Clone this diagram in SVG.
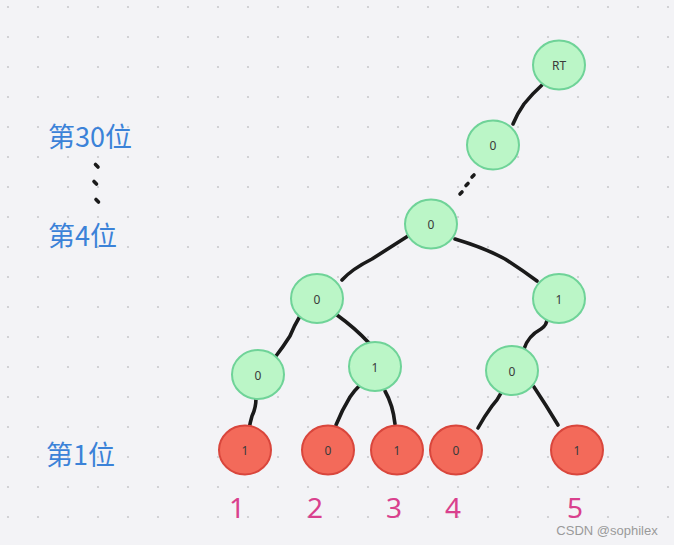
<svg xmlns="http://www.w3.org/2000/svg" width="674" height="545" viewBox="0 0 674 545">
<defs>
<pattern id="grid" x="0" y="0" width="30" height="30" patternUnits="userSpaceOnUse">
<circle cx="8" cy="7" r="1.1" fill="#c9c9cd"/>
</pattern>
<style>
.g{fill:#bbf6c7;stroke:#6fd398;stroke-width:2}
.r{fill:#f36a5a;stroke:#d9463c;stroke-width:2}
.t{font-family:"Noto Sans","Liberation Sans",sans-serif;font-size:12px;fill:#3a3a3a;text-anchor:middle}
.e{fill:none;stroke:#1a1a1a;stroke-width:3.6;stroke-linecap:round;stroke-linejoin:round}
.lv{font-family:"Noto Sans CJK SC","Noto Sans",sans-serif;font-size:27px;fill:#3b82d8}
.n{font-family:"Noto Sans","Noto Sans CJK SC",sans-serif;font-size:28px;fill:#d9408d;text-anchor:middle}
</style>
</defs>
<rect width="674" height="545" fill="#f3f3f6"/>
<rect width="674" height="545" fill="url(#grid)"/>

<g id="connectors">
<path class="e" d="M542,85 Q532,94 524,104 Q517,114 513,124"/>
<path class="e" d="M472,177 L474,175 M466,185.5 L468,183.5 M460,194 L462,192"/>
<path class="e" d="M408,236 L372,259 Q352,269 342,280"/>
<path class="e" d="M455,239 Q485,248 505,259 Q522,270 537,281"/>
<path class="e" d="M300,316 Q294,326 290,336 Q283,347 276,356"/>
<path class="e" d="M337,315 Q355,328 369,343"/>
<path class="e" d="M256,398 Q256,408 252,416 Q250,423 249,429"/>
<path class="e" d="M360,385 Q354,391 350,397 Q342,410 336,425"/>
<path class="e" d="M385,391 Q393,405 395,424"/>
<path class="e" d="M547,319 Q547,325 541,329 Q528,336 524,349"/>
<path class="e" d="M501,393 Q497,401 492,406 Q484,417 478,428"/>
<path class="e" d="M534,387 Q546,405 558,425"/>
</g>

<g id="node-rt"><ellipse class="g" cx="559" cy="65" rx="26" ry="24.5"/><text class="t" x="559" y="70">RT</text></g>
<g id="node-b30"><ellipse class="g" cx="493" cy="145" rx="26" ry="24.5"/><text class="t" x="493" y="150">0</text></g>
<g id="node-b4"><ellipse class="g" cx="431" cy="224" rx="26" ry="24.5"/><text class="t" x="431" y="229">0</text></g>
<g id="node-b3l"><ellipse class="g" cx="317" cy="298.5" rx="26" ry="24.5"/><text class="t" x="317" y="303.5">0</text></g>
<g id="node-b3r"><ellipse class="g" cx="559" cy="298.5" rx="26" ry="24.5"/><text class="t" x="559" y="303.5">1</text></g>
<g id="node-b2a"><ellipse class="g" cx="258" cy="374.5" rx="26" ry="24.5"/><text class="t" x="258" y="379.5">0</text></g>
<g id="node-b2b"><ellipse class="g" cx="375" cy="366.5" rx="26" ry="24.5"/><text class="t" x="375" y="371.5">1</text></g>
<g id="node-b2c"><ellipse class="g" cx="512" cy="370.5" rx="26" ry="24.5"/><text class="t" x="512" y="375.5">0</text></g>
<g id="leaf-1"><ellipse class="r" cx="245" cy="450" rx="26" ry="24.5"/><text class="t" x="245" y="455">1</text></g>
<g id="leaf-2"><ellipse class="r" cx="328" cy="450" rx="26" ry="24.5"/><text class="t" x="328" y="455">0</text></g>
<g id="leaf-3"><ellipse class="r" cx="397" cy="450" rx="26" ry="24.5"/><text class="t" x="397" y="455">1</text></g>
<g id="leaf-4"><ellipse class="r" cx="456" cy="450" rx="26" ry="24.5"/><text class="t" x="456" y="455">0</text></g>
<g id="leaf-5"><ellipse class="r" cx="577" cy="450" rx="26" ry="24.5"/><text class="t" x="577" y="455">1</text></g>

<g id="labels">
<text class="lv" x="48" y="147">第30位</text>
<path class="e" d="M95.5,164.5 L98,167 M94,181.5 L96.5,184 M96,199.5 L98.5,202"/>
<text class="lv" x="48" y="246">第4位</text>
<text class="lv" x="46" y="465">第1位</text>
<text class="n" x="237" y="518">1</text>
<text class="n" x="315" y="518">2</text>
<text class="n" x="394" y="518">3</text>
<text class="n" x="453" y="518">4</text>
<text class="n" x="575" y="518">5</text>
<text x="607" y="535" text-anchor="middle" font-family="'Liberation Sans',sans-serif" font-size="13" fill="#9a9a9a">CSDN @sophilex</text>
</g>
</svg>
